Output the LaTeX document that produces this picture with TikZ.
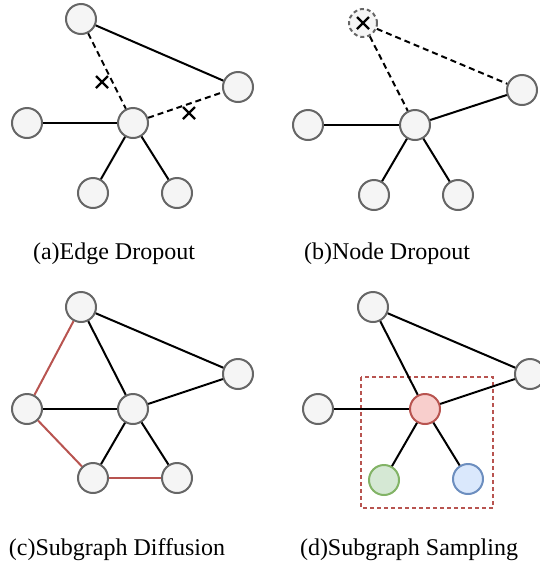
\documentclass[tikz,border=0pt]{standalone}
\usepackage{fontspec}
\setmainfont{Liberation Serif}
\definecolor{nfill}{HTML}{F5F5F5}
\definecolor{ndraw}{HTML}{666666}
\definecolor{redf}{HTML}{F8CECC}
\definecolor{redd}{HTML}{B85450}
\definecolor{greenf}{HTML}{D5E8D4}
\definecolor{greend}{HTML}{82B366}
\definecolor{bluef}{HTML}{DAE8FC}
\definecolor{blued}{HTML}{6C8EBF}
\begin{document}
\begin{tikzpicture}[x=1pt,y=-1pt,
  gnode/.style={circle,minimum size=30pt,inner sep=0pt,fill=nfill,draw=ndraw,line width=2pt},
  gone/.style={circle,minimum size=28pt,inner sep=0pt,fill=nfill,draw=ndraw,line width=2pt,dash pattern=on 4pt off 3pt},
  rnode/.style={gnode,fill=redf,draw=redd},
  gnnode/.style={gnode,fill=greenf,draw=greend},
  bnode/.style={gnode,fill=bluef,draw=blued},
  edge/.style={line width=2pt,black},
  dropedge/.style={edge,dash pattern=on 6pt off 4pt},
  rededge/.style={line width=2pt,redd},
  xmark/.style={line width=2.2pt,black},
  caption/.style={font=\fontsize{24}{28}\selectfont,inner sep=0pt,anchor=base}]
\useasboundingbox (0,0) rectangle (540,563);

% (a) Edge Dropout
\node[gnode] (at) at (81,19) {};
\node[gnode] (ar) at (238,87) {};
\node[gnode] (al) at (27,123) {};
\node[gnode] (ac) at (133,123) {};
\node[gnode] (abl) at (93,193) {};
\node[gnode] (abr) at (177,193) {};
\draw[edge] (at) -- (ar);
\draw[edge] (al) -- (ac);
\draw[edge] (ac) -- (abl);
\draw[edge] (ac) -- (abr);
\draw[dropedge] (at) -- (ac);
\draw[dropedge] (ac) -- (ar);
\coordinate (ax1) at (102,82);
\coordinate (ax2) at (189,113);
\draw[xmark] ([shift={(-6,-6)}]ax1) -- ([shift={(6,6)}]ax1);
\draw[xmark] ([shift={(-6,6)}]ax1) -- ([shift={(6,-6)}]ax1);
\draw[xmark] ([shift={(-6,-6)}]ax2) -- ([shift={(6,6)}]ax2);
\draw[xmark] ([shift={(-6,6)}]ax2) -- ([shift={(6,-6)}]ax2);
\node[caption] (capa) at (114,259) {(a)Edge Dropout};

% (b) Node Dropout
\node[gone] (bt) at (363,23) {};
\node[gnode] (br) at (522,90) {};
\node[gnode] (bl) at (308,125) {};
\node[gnode] (bc) at (415,125) {};
\node[gnode] (bbl) at (374,195) {};
\node[gnode] (bbr) at (458,195) {};
\draw[dropedge] (bt) -- (br);
\draw[dropedge] (bt) -- (bc);
\draw[edge] (bl) -- (bc);
\draw[edge] (bc) -- (br);
\draw[edge] (bc) -- (bbl);
\draw[edge] (bc) -- (bbr);
\draw[xmark] ([shift={(-6,-6)}]bt.center) -- ([shift={(6,6)}]bt.center);
\draw[xmark] ([shift={(-6,6)}]bt.center) -- ([shift={(6,-6)}]bt.center);
\node[caption] (capb) at (387,259) {(b)Node Dropout};

% (c) Subgraph Diffusion
\node[gnode] (ct) at (81,307) {};
\node[gnode] (cr) at (238,374) {};
\node[gnode] (cl) at (27,409) {};
\node[gnode] (cc) at (133,409) {};
\node[gnode] (cbl) at (93,478) {};
\node[gnode] (cbr) at (177,478) {};
\draw[rededge] (ct) -- (cl);
\draw[rededge] (cl) -- (cbl);
\draw[rededge] (cbl) -- (cbr);
\draw[edge] (ct) -- (cc);
\draw[edge] (ct) -- (cr);
\draw[edge] (cl) -- (cc);
\draw[edge] (cc) -- (cr);
\draw[edge] (cc) -- (cbl);
\draw[edge] (cc) -- (cbr);
\node[caption] (capc) at (117,555) {(c)Subgraph Diffusion};

% (d) Subgraph Sampling
\draw[redd,line width=1.2pt,dash pattern=on 4pt off 3pt] (361,377) rectangle (493,508);
\node[gnode] (dt) at (373,307) {};
\node[gnode] (dr) at (530,374) {};
\node[gnode] (dl) at (318,409) {};
\node[rnode] (dc) at (425,409) {};
\node[gnnode] (dbl) at (384,480) {};
\node[bnode] (dbr) at (468,479) {};
\draw[edge] (dt) -- (dr);
\draw[edge] (dt) -- (dc);
\draw[edge] (dl) -- (dc);
\draw[edge] (dc) -- (dr);
\draw[edge] (dc) -- (dbl);
\draw[edge] (dc) -- (dbr);
\node[caption] (capd) at (409,555) {(d)Subgraph Sampling};
\end{tikzpicture}
\end{document}
